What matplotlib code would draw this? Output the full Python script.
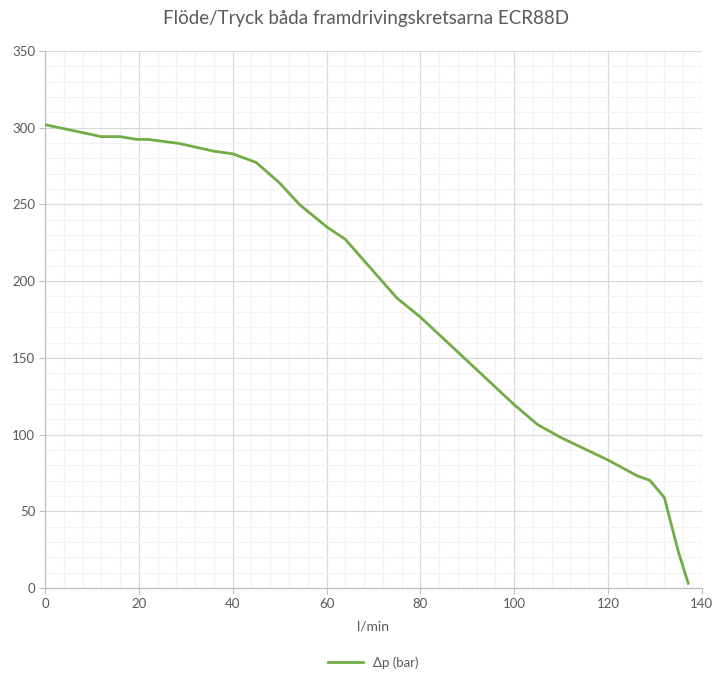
import matplotlib
matplotlib.use("Agg")
import matplotlib.pyplot as plt
from matplotlib.ticker import MultipleLocator

plt.rcParams['font.family'] = ['Lato', 'DejaVu Sans']

# flöde (l/min) och tryckskillnad (bar)
flode = [0, 12, 16, 19.5, 22, 28.5, 36, 40, 45, 50, 54.3, 60, 64,
         75, 80, 100, 105, 110, 120, 126.3, 128.9, 132, 135, 137.1]
tryck = [302, 294.2, 294.2, 292.4, 292.4, 289.8, 284.7, 283, 277.4, 264, 249.8, 235.5, 227.3,
         189, 176.6, 119.5, 106.5, 98, 83.4, 73, 70.2, 59, 23.5, 3]

titel = "Flöde/Tryck båda framdrivingskretsarna ECR88D"
xlabel = "l/min"
serie = "Δp (bar)"

grey = "#595959"
fig = plt.figure(figsize=(7.14, 6.74), dpi=100)
ax = fig.add_axes([0.063, 0.1276, 0.92, 0.7967])

ax.plot(flode, tryck, color="#70AD47", lw=2.0, label=serie, zorder=3)

ax.set_xlim(0, 140)
ax.set_ylim(0, 350)
ax.xaxis.set_major_locator(MultipleLocator(20))
ax.xaxis.set_minor_locator(MultipleLocator(4))
ax.yaxis.set_major_locator(MultipleLocator(50))
ax.yaxis.set_minor_locator(MultipleLocator(10))
ax.grid(which="major", color="#D9D9D9", lw=0.9)
ax.grid(which="minor", color="#F2F2F2", lw=0.9)
ax.set_axisbelow(True)

for side in ["top", "right"]:
    ax.spines[side].set_visible(False)
for side in ["left", "bottom"]:
    ax.spines[side].set_color("#BFBFBF")
    ax.spines[side].set_linewidth(0.9)
ax.tick_params(which="major", length=4, color="#BFBFBF", labelcolor=grey, labelsize=9.5, pad=3)
ax.tick_params(which="minor", length=0)

ax.set_xlabel(xlabel, color=grey, fontsize=10, labelpad=8)
fig.suptitle(titel, color=grey, fontsize=13.5, x=0.512, y=0.985)
ax.legend(loc="upper center", bbox_to_anchor=(0.5, -0.105), frameon=False,
          fontsize=9.5, labelcolor=grey, handlelength=2.6)

fig.savefig("out.png", dpi=100)
